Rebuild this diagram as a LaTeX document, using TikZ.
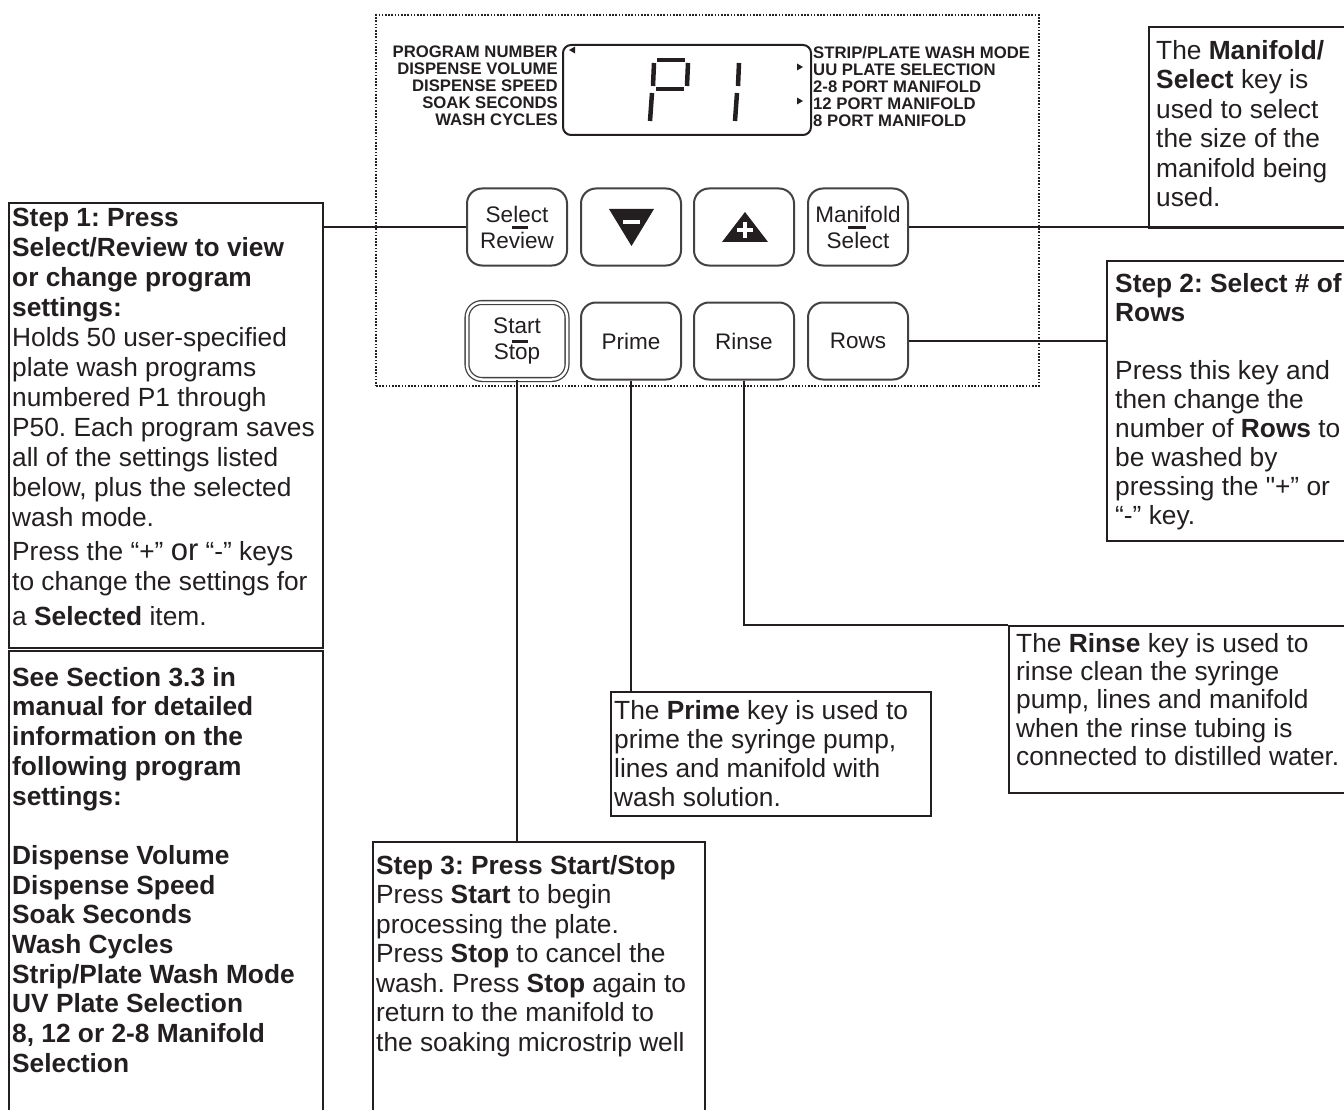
\documentclass[tikz,border=0pt]{standalone}
\usepackage{fontspec}
\setmainfont{Liberation Sans}[Ligatures=TeXOff]
\usetikzlibrary{calc}
\definecolor{ink}{HTML}{231F20}
\frenchspacing
\begin{document}
\begin{tikzpicture}[x=1pt,y=-1pt,
  box/.style={draw=ink, line width=2.2pt, rectangle, inner sep=0pt, anchor=north west},
  key/.style={draw=ink!85, line width=2pt, rounded corners=15pt, minimum width=100pt, minimum height=77pt, inner sep=0pt, align=center, font=\fontsize{22.5}{26}\selectfont, text=ink},
  body/.style={anchor=north west, inner sep=0pt, align=left, text=ink},
  conn/.style={draw=ink, line width=2pt},
  seg/.style={draw=ink, line width=4.5pt},
  lbl/.style={inner sep=0pt, text=ink, font=\bfseries\fontsize{16.7}{17}\selectfont}
]
\useasboundingbox[fill=white] (0,0) rectangle (1344,1110);

% panel and display
\node[draw=ink, line width=2pt, dash pattern=on 1.6pt off 1.6pt, minimum width=663pt, minimum height=371pt, anchor=north west, inner sep=0pt] (panel) at (375,14) {};
\node[draw=ink, line width=2pt, rounded corners=8pt, minimum width=248pt, minimum height=90pt, anchor=north west, inner sep=0pt] (lcd) at (562,44) {};
\node[lbl, anchor=north east, align=right] (lleft) at (558,46) {PROGRAM NUMBER\\DISPENSE VOLUME\\DISPENSE SPEED\\SOAK SECONDS\\WASH CYCLES};
\node[lbl, anchor=north west, align=left] (lright) at (813,46) {STRIP/PLATE WASH MODE\\UU PLATE SELECTION\\2-8 PORT MANIFOLD\\12 PORT MANIFOLD\\8 PORT MANIFOLD};
% indicator triangles
\fill[ink] (569,50) -- (575,46.5) -- (575,53.5) -- cycle;
\fill[ink] (803,67) -- (797,63.5) -- (797,70.5) -- cycle;
\fill[ink] (803,101) -- (797,97.5) -- (797,104.5) -- cycle;
% seven segment P1
\draw[seg] (657,60) -- (685,60);
\draw[seg] (654,63) -- (653,86);
\draw[seg] (688,63) -- (687,86);
\draw[seg] (656,89) -- (684,89);
\draw[seg] (652,93) -- (650,121);
\draw[seg] (739,63) -- (738,86);
\draw[seg] (737,93) -- (735,121);

% keys
\node[key] (sel) at (517,227) {Select\\Review};
\node[key] (dn) at (631,227) {};
\node[key] (up) at (744,227) {};
\node[key] (man) at (858,227) {Manifold\\Select};
\node[key, double=white, double distance=2.5pt, line width=1.3pt] (sta) at (517,341) {Start\\Stop};
\node[key] (pri) at (631,341) {Prime};
\node[key] (rin) at (744,341) {Rinse};
\node[key] (rows) at (858,341) {Rows};
\draw[ink, line width=3pt] (512,228) -- (528,228);
\draw[ink, line width=3pt] (848,228) -- (866,228);
\draw[ink, line width=3pt] (512,341.5) -- (528,341.5);
\fill[ink] ($(dn.center)+(-22,-18)$) -- ($(dn.center)+(23,-18)$) -- ($(dn.center)+(0.5,19)$) -- cycle;
\draw[white, line width=4pt] ($(dn.center)+(-8,-5)$) -- ($(dn.center)+(9,-5)$);
\fill[ink] ($(up.center)+(1,-15)$) -- ($(up.center)+(24,15)$) -- ($(up.center)+(-22,15)$) -- cycle;
\draw[white, line width=4pt] ($(up.center)+(-7,3)$) -- ($(up.center)+(9,3)$);
\draw[white, line width=4pt] ($(up.center)+(1,-5)$) -- ($(up.center)+(1,11)$);

% boxes
\node[box, minimum width=314pt, minimum height=445pt] (s1) at (8,202) {};
\node[box, minimum width=314pt, minimum height=470pt] (s1b) at (8,650) {};
\node[box, minimum width=210pt, minimum height=201pt] (mb) at (1148,26) {};
\node[box, minimum width=250pt, minimum height=280pt] (s2) at (1106,260) {};
\node[box, minimum width=350pt, minimum height=167pt] (rb) at (1008,625) {};
\node[box, minimum width=320pt, minimum height=124pt] (pb) at (610,691) {};
\node[box, minimum width=332pt, minimum height=280pt] (s3) at (372,841) {};

% texts
\node[body, font=\fontsize{26.3}{30}\selectfont] (t1) at (12,208) {\textbf{Step 1: Press}\\
\textbf{Select/Review to view}\\
\textbf{or change program}\\
\textbf{settings:}\\
Holds 50 user-specified\\
plate wash programs\\
numbered P1 through\\
P50. Each program saves\\
all of the settings listed\\
below, plus the selected\\
wash mode.\\[4pt]
Press the “+” {\fontsize{31}{30}\selectfont or} “-” keys\\
to change the settings for\\[5pt]
a \textbf{Selected} item.};
\node[body, font=\bfseries\fontsize{26.3}{29.7}\selectfont] (t1b) at (12,667) {See Section 3.3 in\\
manual for detailed\\
information on the\\
following program\\
settings:\\[29.7pt]
Dispense Volume\\
Dispense Speed\\
Soak Seconds\\
Wash Cycles\\
Strip/Plate Wash Mode\\
UV Plate Selection\\
8, 12 or 2-8 Manifold\\
Selection};
\node[body, font=\fontsize{26.3}{29.5}\selectfont] (tm) at (1156,40) {The \textbf{Manifold/}\\
\textbf{Select} key is\\
used to select\\
the size of the\\
manifold being\\
used.};
\node[body, font=\fontsize{26.3}{29}\selectfont] (t2) at (1115,273) {\textbf{Step 2: Select \# of}\\
\textbf{Rows}\\[29pt]
Press this key and\\
then change the\\
number of \textbf{Rows} to\\
be washed by\\
pressing the "+” or\\
“-” key.};
\node[body, font=\fontsize{26.3}{28.3}\selectfont] (tr) at (1016,633) {The \textbf{Rinse} key is used to\\
rinse clean the syringe\\
pump, lines and manifold\\
when the rinse tubing is\\
connected to distilled water.};
\node[body, font=\fontsize{26.3}{29}\selectfont] (tp) at (614,700) {The \textbf{Prime} key is used to\\
prime the syringe pump,\\
lines and manifold with\\
wash solution.};
\node[body, font=\fontsize{26.3}{29.5}\selectfont] (t3) at (376,855) {\textbf{Step 3: Press Start/Stop}\\
Press \textbf{Start} to begin\\
processing the plate.\\
Press \textbf{Stop} to cancel the\\
wash. Press \textbf{Stop} again to\\
return to the manifold to\\
the soaking microstrip well};

% connectors
\draw[conn] (sel.west) -- (sel.west -| s1.east);
\draw[conn] (man.east) -- (man.east -| mb.east);
\draw[conn] (rows.east) -- (rows.east -| s2.west);
\draw[conn] (rin.south) |- (rb.north west);
\draw[conn] (pri.south) -- (pri.south |- pb.north);
\draw[conn] (sta.south) -- (sta.south |- s3.north);
\end{tikzpicture}
\end{document}
